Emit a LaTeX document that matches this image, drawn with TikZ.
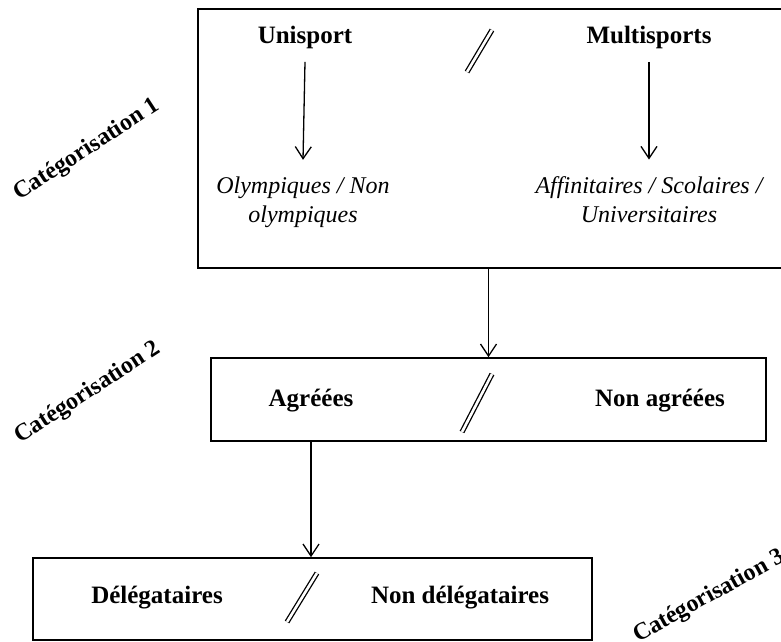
\documentclass[tikz,border=0pt]{standalone}
\usepackage{fontspec}
\setmainfont{Liberation Serif}
\usetikzlibrary{arrows.meta}
\tikzset{
    boite/.style={draw, line width=1.6pt, inner sep=0pt},
    titre/.style={font=\bfseries\fontsize{25}{29}\selectfont, anchor=base},
    soustitre/.style={font=\itshape\fontsize{24}{29}\selectfont, align=center, anchor=base},
    categorie/.style={font=\bfseries\fontsize{24}{28}\selectfont},
    fleche/.style={-{Straight Barb[length=12pt, width=16pt]}, line width=1.3pt},
    barre/.style={double, double distance=2.6pt, line width=1.3pt}
}
\begin{document}
\begin{tikzpicture}
  [
    x                  = 1pt,
    y                  = -1pt,
  ]
  \useasboundingbox (0,0) rectangle (781,641);
  \node [boite, minimum width=586pt, minimum height=259pt] (box1) at (491,138.5) {};
  \node [boite, minimum width=555pt, minimum height=83pt] (box2) at (488.5,399.5) {};
  \node [boite, minimum width=559pt, minimum height=82pt] (box3) at (312.5,599) {};

  \node [titre] (unisport) at (305,43) {Unisport};
  \node [titre] (multi) at (649,43) {Multisports};
  \node [soustitre] (olymp) at (303,222) {Olympiques / Non\\olympiques};
  \node [soustitre] (affin) at (649,222) {Affinitaires / Scolaires /\\Universitaires};
  \node [titre] (agreees) at (311,406) {Agréées};
  \node [titre] (nonagreees) at (660,406) {Non agréées};
  \node [titre] (deleg) at (157,603) {Délégataires};
  \node [titre] (nondeleg) at (460,603) {Non délégataires};

  \node [categorie, rotate=33] (cat1) at (87,150) {Catégorisation 1};
  \node [categorie, rotate=33] (cat2) at (88,393) {Catégorisation 2};
  \node [categorie, rotate=29] (cat3) at (709,597) {Catégorisation 3};

  \draw [fleche] ([yshift=-10pt]unisport.south) -- ([yshift=13pt]olymp.north);
  \draw [fleche] ([yshift=-10pt]multi.south) -- ([yshift=13pt]affin.north);
  \draw [fleche] (box2.north |- box1.south) -- (box2.north);
  \draw [fleche] (agreees |- box2.south) -- (agreees |- box3.north);

  \draw [barre] (467,72) -- (492,30);
  \draw [barre] (462,432) -- (492,374);
  \draw [barre] (287,622) -- (317,573);
\end{tikzpicture}
\end{document}
